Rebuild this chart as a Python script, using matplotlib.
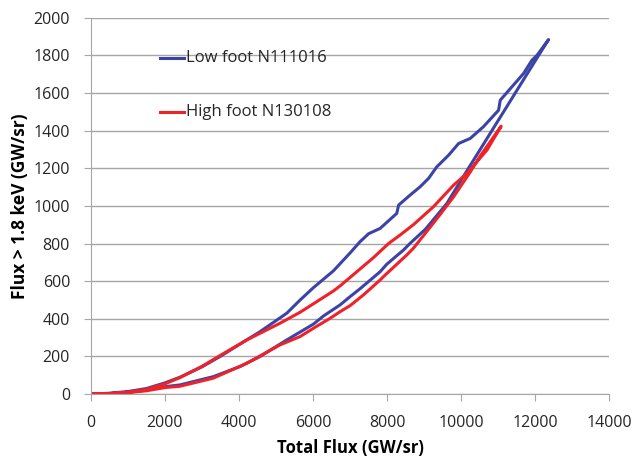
import matplotlib
matplotlib.use('agg')
import matplotlib.pyplot as plt
import numpy as np

# Low foot N111016 (blue): lower branch and upper branch, origin -> tip
blue_lower_x = [0, 500, 1000, 1500, 2000, 2405, 3305, 4030, 4568, 5290, 5650, 6010, 6280,
                6730, 7000, 7270, 7810, 7990, 8440, 8620, 9030, 9615, 10245, 10335, 11236,
                12050, 12360]
blue_lower_y = [0, 3, 10, 22, 40, 49, 93, 147, 200, 288, 330, 372, 415,
                474, 518, 560, 650, 690, 765, 801, 875, 1013, 1215, 1243, 1528,
                1786, 1883]
blue_upper_x = [0, 500, 1000, 1500, 2000, 2405, 3000, 3487, 4568, 5290, 5650, 6000, 6550,
                7000, 7270, 7500, 7810, 8260, 8310, 8620, 8890, 9120, 9340, 9660, 9930,
                10245, 10600, 11010, 11055, 11370, 11685, 11910, 12050, 12360]
blue_upper_y = [0, 5, 14, 30, 60, 90, 145, 200, 332, 430, 500, 564, 655,
                750, 810, 852, 880, 960, 1004, 1057, 1101, 1146, 1207, 1269, 1331,
                1358, 1420, 1508, 1561, 1632, 1703, 1773, 1800, 1883]

# High foot N130108 (red)
red_lower_x = [0, 500, 1000, 1500, 2000, 2405, 3305, 4210, 5110, 5650, 6010, 6460, 6730,
               7000, 7360, 7810, 7900, 8530, 8710, 9075, 9435, 9795, 10245, 10515, 11080]
red_lower_y = [0, 2, 8, 18, 35, 42, 85, 164, 262, 306, 350, 403, 438,
               470, 527, 606, 624, 739, 775, 865, 955, 1048, 1180, 1265, 1423]
red_upper_x = [0, 500, 1000, 1500, 2000, 2405, 3000, 3487, 4210, 5110, 5650, 6010, 6550,
               6730, 7180, 7630, 8040, 8350, 8710, 9250, 9795, 10155, 10695, 11080]
red_upper_y = [0, 3, 10, 25, 55, 88, 148, 205, 288, 377, 435, 480, 548,
               575, 650, 725, 800, 845, 900, 995, 1110, 1172, 1296, 1423]

BLUE = '#3b44a6'
RED = '#ef2229'
GRID = '#a6a6a6'

plt.rcParams['font.family'] = ['Open Sans', 'DejaVu Sans']

fig = plt.figure(figsize=(6.36, 4.61), dpi=100)
ax = fig.add_axes([0.143, 0.145, 0.815, 0.817])

bx = blue_lower_x + blue_upper_x[::-1]
by = blue_lower_y + blue_upper_y[::-1]
rx = red_lower_x + red_upper_x[::-1]
ry = red_lower_y + red_upper_y[::-1]
ax.plot(bx, by, color=BLUE, lw=2.2, solid_joinstyle='round')
ax.plot(rx, ry, color=RED, lw=2.2, solid_joinstyle='round')

ax.set_xlim(0, 14000)
ax.set_ylim(0, 2000)
ax.set_xticks(np.arange(0, 14001, 2000))
ax.set_yticks(np.arange(0, 2001, 200))
ax.yaxis.grid(True, color=GRID, lw=1)
ax.set_axisbelow(True)
for s in ['top', 'right']:
    ax.spines[s].set_visible(False)
for s in ['left', 'bottom']:
    ax.spines[s].set_color(GRID)
ax.tick_params(axis='both', colors=GRID, labelcolor='#262626', labelsize=11.5,
               length=5, direction='out')
ax.tick_params(axis='y', pad=10)
ax.tick_params(axis='x', pad=10)

ax.set_xlabel('Total Flux (GW/sr)', fontsize=12, fontweight='bold', labelpad=6)
ax.set_ylabel('Flux > 1.8 keV (GW/sr)', fontsize=12.5, fontweight='bold', labelpad=3)

# legend drawn inside plot like the original
ax.plot([1865, 2514], [1786, 1786], color=BLUE, lw=2.2)
ax.text(2570, 1786, 'Low foot N111016', fontsize=12, va='center', color='#262626')
ax.plot([1865, 2514], [1499, 1499], color=RED, lw=2.2)
ax.text(2570, 1499, 'High foot N130108', fontsize=12, va='center', color='#262626')

fig.savefig('out.png', dpi=100)
